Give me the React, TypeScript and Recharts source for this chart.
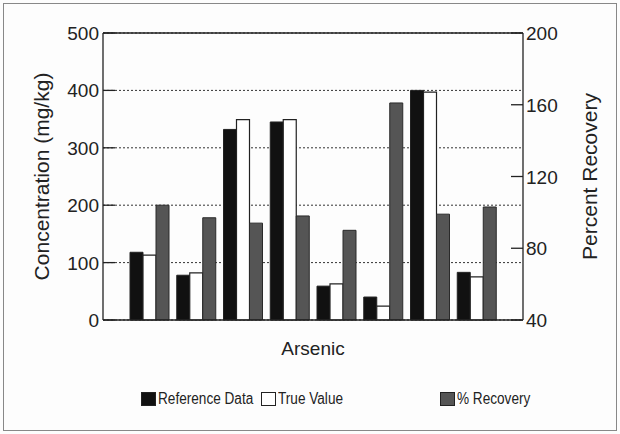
import React from 'react';
import {
  BarChart,
  Bar,
  XAxis,
  YAxis,
  CartesianGrid,
  ReferenceLine
} from 'recharts';

const samples = ['S1', 'S2', 'S3', 'S4', 'S5', 'S6', 'S7', 'S8'];
const referenceData = [118, 78, 332, 345, 59, 40, 400, 83];
const trueValue = [113, 82, 349, 349, 63, 24, 397, 75];
const recovery = [104, 97, 94, 98, 90, 161, 99, 103];

const leftTicks = [0, 100, 200, 300, 400, 500];
const rightTicks = [40, 80, 120, 160, 200];

// note: don't call a key "ref", recharts spreads entries onto the rects
const data = samples.map((name, i) => ({
  name,
  refData: referenceData[i],
  trueVal: trueValue[i],
  pctRec: recovery[i]
}));

const FONT = '"Liberation Sans", Arial, Helvetica, sans-serif';
const INK = '#222';

// ticks point into the plot, labels sit outside
const renderLeftTick = (p: any) => (
  <g key={`l-${p.payload.value}`}>
    <line x1={p.x} x2={p.x + 12} y1={p.y} y2={p.y} stroke={INK} strokeWidth={1.3} />
    <text x={p.x - 4} y={p.y} dy={7} textAnchor="end" fontSize={19} fill={INK} fontFamily={FONT}>
      {p.payload.value}
    </text>
  </g>
);

const renderRightTick = (p: any) => (
  <g key={`r-${p.payload.value}`}>
    <line x1={p.x - 12} x2={p.x} y1={p.y} y2={p.y} stroke={INK} strokeWidth={1.3} />
    <text x={p.x + 3} y={p.y} dy={7} textAnchor="start" fontSize={19} fill={INK} fontFamily={FONT}>
      {p.payload.value}
    </text>
  </g>
);

const legendItems = [
  { label: 'Reference Data', fill: '#111', left: 141 },
  { label: 'True Value', fill: '#fff', left: 261 },
  { label: '% Recovery', fill: '#555', left: 440 }
];

// legend drawn outside recharts so it doesn't eat into the plot height
const ChartLegend = () => (
  <div style={{ position: 'absolute', left: 0, top: 390, width: 620, height: 22, fontFamily: FONT, fontSize: 16, color: INK }}>
    {legendItems.map((item) => (
      <div
        key={item.label}
        style={{ position: 'absolute', left: item.left, top: 0, display: 'flex', alignItems: 'center', whiteSpace: 'nowrap' }}
      >
        <span
          style={{
            display: 'inline-block',
            width: 13,
            height: 12,
            background: item.fill,
            border: '1px solid #222',
            marginRight: 2
          }}
        />
        {/* the scan's font is narrow, squeeze it a bit */}
        <span style={{ display: 'inline-block', transform: 'scaleX(0.85)', transformOrigin: 'left center' }}>
          {item.label}
        </span>
      </div>
    ))}
  </div>
);

export default function App() {
  return (
    <div style={{ position: 'relative', width: 620, height: 434, background: '#fdfdfd' }}>
      <style>{`body{margin:0}`}</style>
      <div
        style={{
          position: 'absolute',
          left: 3,
          top: 3,
          width: 612,
          height: 426,
          border: '1px solid #888'
        }}
      />
      <div style={{ position: 'absolute', left: 0, top: 0 }}>
        <BarChart
          width={620}
          height={434}
          data={data}
          margin={{ top: 33, right: 0, bottom: 0, left: 0 }}
          barCategoryGap={4}
          barGap={0}
        >
          <CartesianGrid
            yAxisId="left"
            vertical={false}
            stroke="#333"
            strokeDasharray="2 2"
          />
          <XAxis
            dataKey="name"
            tick={false}
            tickLine={false}
            height={114}
            padding={{ left: 23, right: 23 }}
            axisLine={{ stroke: INK, strokeWidth: 1.3 }}
            label={{
              value: 'Arsenic',
              position: 'insideTop',
              offset: 22,
              style: { fontSize: 19, fill: INK, fontFamily: FONT }
            }}
          />
          <YAxis
            yAxisId="left"
            domain={[0, 500]}
            ticks={leftTicks}
            width={103}
            tickSize={0}
            tickMargin={0}
            tick={renderLeftTick}
            axisLine={{ stroke: INK, strokeWidth: 1.3 }}
            label={{
              value: 'Concentration (mg/kg)',
              angle: -90,
              position: 'insideLeft',
              offset: 42,
              style: { fontSize: 21, fill: INK, fontFamily: FONT, textAnchor: 'middle' }
            }}
          />
          <YAxis
            yAxisId="right"
            orientation="right"
            domain={[40, 200]}
            ticks={rightTicks}
            width={97}
            tickSize={0}
            tickMargin={0}
            tick={renderRightTick}
            axisLine={{ stroke: INK, strokeWidth: 1.3 }}
            label={{
              value: 'Percent Recovery',
              angle: -90,
              position: 'insideRight',
              offset: 30,
              style: { fontSize: 21, fill: INK, fontFamily: FONT, textAnchor: 'middle' }
            }}
          />
          <ReferenceLine yAxisId="left" y={500} stroke={INK} strokeWidth={1.3} />
          <Bar
            yAxisId="left"
            dataKey="refData"
            name="Reference Data"
            fill="#111"
            stroke="#222"
            isAnimationActive={false}
          />
          <Bar
            yAxisId="left"
            dataKey="trueVal"
            name="True Value"
            fill="#fff"
            stroke="#222"
            strokeWidth={1.2}
            isAnimationActive={false}
          />
          <Bar
            yAxisId="right"
            dataKey="pctRec"
            name="% Recovery"
            fill="#555"
            stroke="#2a2a2a"
            isAnimationActive={false}
          />
        </BarChart>
      </div>
      <ChartLegend />
    </div>
  );
}
